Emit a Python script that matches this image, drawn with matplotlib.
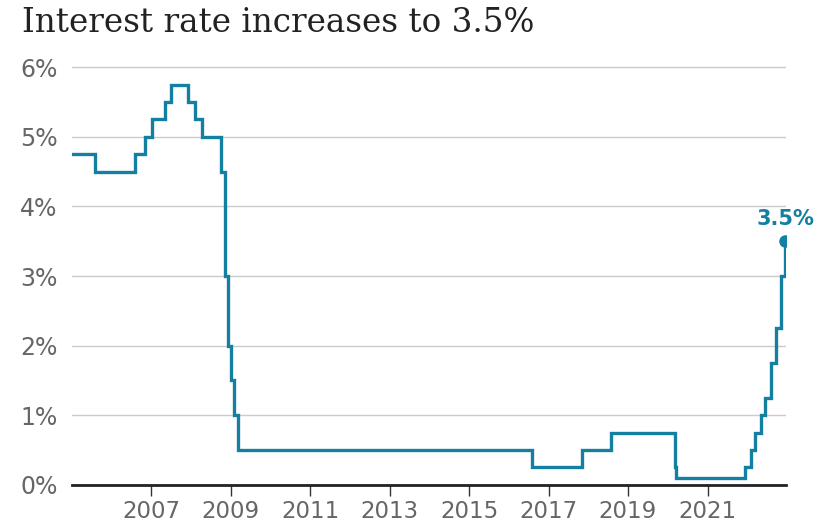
import pandas as pd
import matplotlib.pyplot as plt
import matplotlib.dates as mdates

# Bank of England base rate changes (date of change, new rate %)
change_dates = ['2005-01-01', '2005-08-04', '2006-08-03', '2006-11-09', '2007-01-11',
                '2007-05-10', '2007-07-05', '2007-12-06', '2008-02-07', '2008-04-10',
                '2008-10-08', '2008-11-06', '2008-12-04', '2009-01-08', '2009-02-05',
                '2009-03-05', '2016-08-04', '2017-11-02', '2018-08-02', '2020-03-11',
                '2020-03-19', '2021-12-16', '2022-02-03', '2022-03-17', '2022-05-05',
                '2022-06-16', '2022-08-04', '2022-09-22', '2022-11-03', '2022-12-15']
rates = [4.75, 4.5, 4.75, 5.0, 5.25,
         5.5, 5.75, 5.5, 5.25, 5.0,
         4.5, 3.0, 2.0, 1.5, 1.0,
         0.5, 0.25, 0.5, 0.75, 0.25,
         0.1, 0.25, 0.5, 0.75, 1.0,
         1.25, 1.75, 2.25, 3.0, 3.5]
y_ticks = [0, 1, 2, 3, 4, 5, 6]
x_tick_years = [2007, 2009, 2011, 2013, 2015, 2017, 2019, 2021]

title = 'Interest rate increases to 3.5%'
line_color = '#1380A1'

dates = pd.to_datetime(change_dates)

fig = plt.figure(figsize=(8.34, 5.27), dpi=100)
ax = fig.add_axes([0.086, 0.08, 0.856, 0.795])

ax.plot(dates, rates, drawstyle='steps-post', color=line_color, linewidth=2.4,
        solid_joinstyle='miter', zorder=3)
ax.plot(dates[-1], rates[-1], 'o', color=line_color, markersize=8, zorder=4)
ax.annotate(f'{rates[-1]}%', (dates[-1], rates[-1]), xytext=(0, 9),
            textcoords='offset points', ha='center', va='bottom',
            color=line_color, fontsize=15, fontweight='bold')

ax.set_xlim(pd.Timestamp('2005-01-01'), pd.Timestamp('2022-12-20'))
ax.set_ylim(0, 6.02)

ax.set_yticks(y_ticks)
ax.set_yticklabels([f'{t}%' for t in y_ticks])
ax.set_xticks([pd.Timestamp(f'{y}-01-01') for y in x_tick_years])
ax.xaxis.set_major_formatter(mdates.DateFormatter('%Y'))

ax.grid(axis='y', color='#cbcbcb', linewidth=1)
ax.set_axisbelow(True)
for s in ['top', 'right', 'left']:
    ax.spines[s].set_visible(False)
ax.spines['bottom'].set_color('#222222')
ax.spines['bottom'].set_linewidth(2)
ax.spines['bottom'].set_zorder(5)

ax.tick_params(axis='y', length=0, labelsize=17, labelcolor='#666666', pad=10)
ax.tick_params(axis='x', length=8, width=1, color='#333333', labelsize=16.5,
               labelcolor='#666666', pad=3)
for lab in ax.get_yticklabels():
    lab.set_horizontalalignment('left')
    lab.set_x(-0.0525)

fig.text(0.026, 0.957, title, fontsize=23.5, family='DejaVu Serif', color='#222222',
         va='center', ha='left')

fig.savefig('out.png', dpi=100)
